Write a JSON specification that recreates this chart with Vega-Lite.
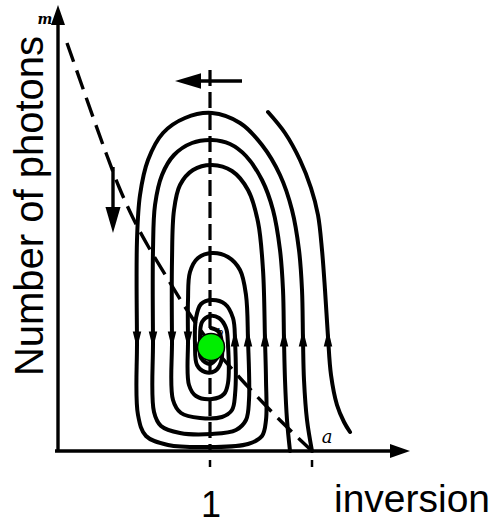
{
  "$schema": "https://vega.github.io/schema/vega-lite/v6.json",
  "autosize": {"type": "none"},
  "padding": 0,
  "width": 494,
  "height": 524,
  "background": "white",
  "config": {"view": {"stroke": null}},
  "datasets": {
    "curves": [
      {"s": "S1", "i": 1, "n": 1.6711, "m": 0},
      {"s": "S1", "i": 2, "n": 1.6382, "m": 0.31},
      {"s": "S1", "i": 3, "n": 1.6184, "m": 0.71},
      {"s": "S1", "i": 4, "n": 1.6118, "m": 1.11},
      {"s": "S1", "i": 5, "n": 1.6053, "m": 1.61},
      {"s": "S1", "i": 6, "n": 1.5855, "m": 2.01},
      {"s": "S1", "i": 7, "n": 1.5395, "m": 2.41},
      {"s": "S1", "i": 8, "n": 1.4605, "m": 2.76},
      {"s": "S1", "i": 9, "n": 1.3421, "m": 3.06},
      {"s": "S1", "i": 10, "n": 1.1974, "m": 3.28},
      {"s": "S1", "i": 11, "n": 1.0132, "m": 3.38},
      {"s": "S1", "i": 12, "n": 0.8355, "m": 3.33},
      {"s": "S1", "i": 13, "n": 0.6908, "m": 3.18},
      {"s": "S1", "i": 14, "n": 0.5921, "m": 2.91},
      {"s": "S1", "i": 15, "n": 0.5395, "m": 2.56},
      {"s": "S1", "i": 16, "n": 0.5197, "m": 2.11},
      {"s": "S1", "i": 17, "n": 0.5197, "m": 1.11},
      {"s": "S1", "i": 18, "n": 0.5263, "m": 0.36},
      {"s": "S1", "i": 19, "n": 0.5789, "m": 0.15},
      {"s": "S1", "i": 20, "n": 0.7237, "m": 0.06},
      {"s": "S1", "i": 21, "n": 1.0132, "m": 0.04},
      {"s": "S1", "i": 22, "n": 1.25, "m": 0.07},
      {"s": "S1", "i": 23, "n": 1.3421, "m": 0.15},
      {"s": "S1", "i": 24, "n": 1.3684, "m": 0.31},
      {"s": "S1", "i": 25, "n": 1.3684, "m": 0.71},
      {"s": "S1", "i": 26, "n": 1.3618, "m": 1.11},
      {"s": "S1", "i": 27, "n": 1.3487, "m": 1.81},
      {"s": "S1", "i": 28, "n": 1.3158, "m": 2.29},
      {"s": "S1", "i": 29, "n": 1.25, "m": 2.61},
      {"s": "S1", "i": 30, "n": 1.1447, "m": 2.80},
      {"s": "S1", "i": 31, "n": 1.0132, "m": 2.86},
      {"s": "S1", "i": 32, "n": 0.8882, "m": 2.81},
      {"s": "S1", "i": 33, "n": 0.8026, "m": 2.66},
      {"s": "S1", "i": 34, "n": 0.7632, "m": 2.41},
      {"s": "S1", "i": 35, "n": 0.75, "m": 1.91},
      {"s": "S1", "i": 36, "n": 0.75, "m": 1.11},
      {"s": "S1", "i": 37, "n": 0.7566, "m": 0.51},
      {"s": "S1", "i": 38, "n": 0.8092, "m": 0.38},
      {"s": "S1", "i": 39, "n": 0.9342, "m": 0.33},
      {"s": "S1", "i": 40, "n": 1.0789, "m": 0.34},
      {"s": "S1", "i": 41, "n": 1.1447, "m": 0.41},
      {"s": "S1", "i": 42, "n": 1.1645, "m": 0.56},
      {"s": "S1", "i": 43, "n": 1.1645, "m": 1.11},
      {"s": "S1", "i": 44, "n": 1.1513, "m": 1.33},
      {"s": "S1", "i": 45, "n": 1.0987, "m": 1.47},
      {"s": "S1", "i": 46, "n": 1.0132, "m": 1.51},
      {"s": "S1", "i": 47, "n": 0.9408, "m": 1.47},
      {"s": "S1", "i": 48, "n": 0.9079, "m": 1.33},
      {"s": "S1", "i": 49, "n": 0.9013, "m": 1.06},
      {"s": "S1", "i": 50, "n": 0.9145, "m": 0.86},
      {"s": "S1", "i": 51, "n": 0.9671, "m": 0.79},
      {"s": "S1", "i": 52, "n": 1.0329, "m": 0.80},
      {"s": "S1", "i": 53, "n": 1.0724, "m": 0.89},
      {"s": "S1", "i": 54, "n": 1.0789, "m": 1.06},
      {"s": "S1", "i": 55, "n": 1.0592, "m": 1.19},
      {"s": "S1", "i": 56, "n": 1.0066, "m": 1.23},
      {"s": "S2", "i": 1, "n": 1.5263, "m": 0},
      {"s": "S2", "i": 2, "n": 1.5066, "m": 0.31},
      {"s": "S2", "i": 3, "n": 1.4934, "m": 0.71},
      {"s": "S2", "i": 4, "n": 1.4868, "m": 1.11},
      {"s": "S2", "i": 5, "n": 1.4803, "m": 1.61},
      {"s": "S2", "i": 6, "n": 1.4605, "m": 2.01},
      {"s": "S2", "i": 7, "n": 1.4145, "m": 2.41},
      {"s": "S2", "i": 8, "n": 1.3421, "m": 2.71},
      {"s": "S2", "i": 9, "n": 1.2368, "m": 2.95},
      {"s": "S2", "i": 10, "n": 1.1316, "m": 3.07},
      {"s": "S2", "i": 11, "n": 1.0132, "m": 3.11},
      {"s": "S2", "i": 12, "n": 0.8816, "m": 3.08},
      {"s": "S2", "i": 13, "n": 0.7632, "m": 2.96},
      {"s": "S2", "i": 14, "n": 0.6842, "m": 2.76},
      {"s": "S2", "i": 15, "n": 0.6382, "m": 2.46},
      {"s": "S2", "i": 16, "n": 0.625, "m": 2.01},
      {"s": "S2", "i": 17, "n": 0.625, "m": 1.11},
      {"s": "S2", "i": 18, "n": 0.6316, "m": 0.39},
      {"s": "S2", "i": 19, "n": 0.6776, "m": 0.25},
      {"s": "S2", "i": 20, "n": 0.8026, "m": 0.18},
      {"s": "S2", "i": 21, "n": 1.0132, "m": 0.17},
      {"s": "S2", "i": 22, "n": 1.1711, "m": 0.21},
      {"s": "S2", "i": 23, "n": 1.2368, "m": 0.31},
      {"s": "S2", "i": 24, "n": 1.2566, "m": 0.51},
      {"s": "S2", "i": 25, "n": 1.25, "m": 1.11},
      {"s": "S2", "i": 26, "n": 1.2368, "m": 1.56},
      {"s": "S2", "i": 27, "n": 1.1974, "m": 1.81},
      {"s": "S2", "i": 28, "n": 1.1184, "m": 1.94},
      {"s": "S2", "i": 29, "n": 1.0132, "m": 1.98},
      {"s": "S2", "i": 30, "n": 0.9211, "m": 1.93},
      {"s": "S2", "i": 31, "n": 0.8684, "m": 1.79},
      {"s": "S2", "i": 32, "n": 0.8553, "m": 1.51},
      {"s": "S2", "i": 33, "n": 0.8553, "m": 1.11},
      {"s": "S2", "i": 34, "n": 0.8618, "m": 0.66},
      {"s": "S2", "i": 35, "n": 0.9079, "m": 0.55},
      {"s": "S2", "i": 36, "n": 1.0132, "m": 0.52},
      {"s": "S2", "i": 37, "n": 1.0921, "m": 0.57},
      {"s": "S2", "i": 38, "n": 1.1184, "m": 0.68},
      {"s": "S2", "i": 39, "n": 1.1184, "m": 1.06},
      {"s": "S2", "i": 40, "n": 1.1053, "m": 1.23},
      {"s": "S2", "i": 41, "n": 1.0592, "m": 1.33},
      {"s": "S2", "i": 42, "n": 1.0, "m": 1.35},
      {"s": "S2", "i": 43, "n": 0.9474, "m": 1.29},
      {"s": "S2", "i": 44, "n": 0.9342, "m": 1.11},
      {"s": "S2", "i": 45, "n": 0.9408, "m": 0.93},
      {"s": "S2", "i": 46, "n": 1.0, "m": 0.87},
      {"s": "S2", "i": 47, "n": 1.0461, "m": 0.93},
      {"s": "E", "i": 1, "n": 1.3816, "m": 3.39},
      {"s": "E", "i": 2, "n": 1.4934, "m": 3.18},
      {"s": "E", "i": 3, "n": 1.5921, "m": 2.91},
      {"s": "E", "i": 4, "n": 1.6645, "m": 2.63},
      {"s": "E", "i": 5, "n": 1.7105, "m": 2.36},
      {"s": "E", "i": 6, "n": 1.7368, "m": 2.01},
      {"s": "E", "i": 7, "n": 1.7566, "m": 1.61},
      {"s": "E", "i": 8, "n": 1.7763, "m": 1.14},
      {"s": "E", "i": 9, "n": 1.7961, "m": 0.76},
      {"s": "E", "i": 10, "n": 1.8355, "m": 0.46},
      {"s": "E", "i": 11, "n": 1.8816, "m": 0.29},
      {"s": "E", "i": 12, "n": 1.9211, "m": 0.19}
    ],
    "dashed": [
      {"s": "null", "i": 1, "n": 0.0592, "m": 4.08},
      {"s": "null", "i": 2, "n": 0.1447, "m": 3.71},
      {"s": "null", "i": 3, "n": 0.2303, "m": 3.34},
      {"s": "null", "i": 4, "n": 0.3158, "m": 2.98},
      {"s": "null", "i": 5, "n": 0.4013, "m": 2.64},
      {"s": "null", "i": 6, "n": 0.4934, "m": 2.33},
      {"s": "null", "i": 7, "n": 0.5921, "m": 2.05},
      {"s": "null", "i": 8, "n": 0.7105, "m": 1.75},
      {"s": "null", "i": 9, "n": 0.8487, "m": 1.41},
      {"s": "null", "i": 10, "n": 1.0, "m": 1.08},
      {"s": "null", "i": 11, "n": 1.1974, "m": 0.73},
      {"s": "null", "i": 12, "n": 1.3947, "m": 0.41},
      {"s": "null", "i": 13, "n": 1.5329, "m": 0.20},
      {"s": "null", "i": 14, "n": 1.6711, "m": 0},
      {"s": "vert", "i": 1, "n": 1.0, "m": 3.81},
      {"s": "vert", "i": 2, "n": 1.0, "m": 0}
    ],
    "frame": [
      {"s": "yaxis", "i": 1, "n": 0, "m": -0.01},
      {"s": "yaxis", "i": 2, "n": 0, "m": 4.3},
      {"s": "xaxis", "i": 1, "n": -0.0197, "m": 0},
      {"s": "xaxis", "i": 2, "n": 2.2171, "m": 0},
      {"s": "topArrow", "i": 1, "n": 0.8684, "m": 3.70},
      {"s": "topArrow", "i": 2, "n": 1.2105, "m": 3.70},
      {"s": "slopeArrow", "i": 1, "n": 0.3618, "m": 2.84},
      {"s": "slopeArrow", "i": 2, "n": 0.3618, "m": 2.36}
    ],
    "ticks": [
      {"s": "t1", "i": 1, "n": 1.0, "m": -0.09},
      {"s": "t1", "i": 2, "n": 1.0, "m": -0.16},
      {"s": "t2", "i": 1, "n": 1.6711, "m": -0.09},
      {"s": "t2", "i": 2, "n": 1.6711, "m": -0.16}
    ],
    "heads": [
      {"kind": "down", "n": 0.5197, "m": 1.11},
      {"kind": "down", "n": 0.625, "m": 1.11},
      {"kind": "down", "n": 0.75, "m": 1.11},
      {"kind": "down", "n": 0.8553, "m": 1.11},
      {"kind": "up", "n": 1.1645, "m": 1.13},
      {"kind": "up", "n": 1.25, "m": 1.13},
      {"kind": "up", "n": 1.3618, "m": 1.13},
      {"kind": "up", "n": 1.4868, "m": 1.13},
      {"kind": "up", "n": 1.6118, "m": 1.13},
      {"kind": "up", "n": 1.7763, "m": 1.13},
      {"kind": "axisUp", "n": 0, "m": 4.36},
      {"kind": "axisRight", "n": 2.25, "m": 0},
      {"kind": "bigLeft", "n": 0.8553, "m": 3.70},
      {"kind": "bigDown", "n": 0.3618, "m": 2.31}
    ],
    "fixed": [
      {"label": "b", "n": 1.0066, "m": 1.04}
    ],
    "labels": [
      {"kind": "ylab", "text": "Number of photons", "n": -0.0987, "m": 2.45},
      {"kind": "xlab", "text": "inversion", "n": 2.3289, "m": -0.61},
      {"kind": "one", "text": "1", "n": 1.0066, "m": -0.655},
      {"kind": "m", "text": "m", "n": -0.0855, "m": 4.27},
      {"kind": "a", "text": "a", "n": 1.7697, "m": 0.08},
      {"kind": "b", "text": "b", "n": 1.0658, "m": 1.15}
    ]
  },
  "encoding": {
    "x": {"field": "n", "type": "quantitative", "scale": {"domain": [-0.3816, 2.8684], "nice": false, "zero": false}, "axis": null},
    "y": {"field": "m", "type": "quantitative", "scale": {"domain": [-0.73, 4.51], "nice": false, "zero": false}, "axis": null}
  },
  "layer": [
    {
      "data": {"name": "dashed"},
      "transform": [{"filter": "datum.s === 'null'"}],
      "mark": {"type": "line", "color": "black", "strokeWidth": 3.4, "strokeDash": [20, 9], "interpolate": "catmull-rom"},
      "encoding": {"order": {"field": "i", "type": "quantitative"}}
    },
    {
      "data": {"name": "dashed"},
      "transform": [{"filter": "datum.s === 'vert'"}],
      "mark": {"type": "line", "color": "black", "strokeWidth": 3.2, "strokeDash": [16, 6]},
      "encoding": {"order": {"field": "i", "type": "quantitative"}}
    },
    {
      "data": {"name": "curves"},
      "mark": {"type": "line", "color": "black", "strokeWidth": 4, "interpolate": "catmull-rom", "strokeCap": "round"},
      "encoding": {"detail": {"field": "s"}, "order": {"field": "i", "type": "quantitative"}}
    },
    {
      "data": {"name": "frame"},
      "mark": {"type": "line", "color": "black", "strokeWidth": 3.4},
      "encoding": {"detail": {"field": "s"}, "order": {"field": "i", "type": "quantitative"}}
    },
    {
      "data": {"name": "ticks"},
      "mark": {"type": "line", "color": "black", "strokeWidth": 2.5},
      "encoding": {"detail": {"field": "s"}, "order": {"field": "i", "type": "quantitative"}}
    },
    {
      "data": {"name": "heads"},
      "transform": [{"filter": "datum.kind === 'down'"}],
      "mark": {"type": "point", "filled": true, "color": "black", "opacity": 1, "shape": "M0,1L-0.5,-1L0.5,-1Z", "size": 289}
    },
    {
      "data": {"name": "heads"},
      "transform": [{"filter": "datum.kind === 'up'"}],
      "mark": {"type": "point", "filled": true, "color": "black", "opacity": 1, "shape": "M0,-1L-0.5,1L0.5,1Z", "size": 289}
    },
    {
      "data": {"name": "heads"},
      "transform": [{"filter": "datum.kind === 'axisUp'"}],
      "mark": {"type": "point", "filled": true, "color": "black", "opacity": 1, "shape": "M0,-1L-0.7,1L0.7,1Z", "size": 400}
    },
    {
      "data": {"name": "heads"},
      "transform": [{"filter": "datum.kind === 'axisRight'"}],
      "mark": {"type": "point", "filled": true, "color": "black", "opacity": 1, "shape": "M1,0L-1,-0.7L-1,0.7Z", "size": 400}
    },
    {
      "data": {"name": "heads"},
      "transform": [{"filter": "datum.kind === 'bigLeft'"}],
      "mark": {"type": "point", "filled": true, "color": "black", "opacity": 1, "shape": "M-1,0L1,-0.6L1,0.6Z", "size": 676}
    },
    {
      "data": {"name": "heads"},
      "transform": [{"filter": "datum.kind === 'bigDown'"}],
      "mark": {"type": "point", "filled": true, "color": "black", "opacity": 1, "shape": "M0,1L-0.58,-1L0.58,-1Z", "size": 676}
    },
    {
      "data": {"name": "labels"},
      "transform": [{"filter": "datum.kind === 'b'"}],
      "mark": {"type": "text", "font": "DejaVu Serif", "fontStyle": "italic", "fontSize": 11, "color": "black", "align": "center", "baseline": "alphabetic"},
      "encoding": {"text": {"field": "text"}}
    },
    {
      "data": {"name": "fixed"},
      "mark": {"type": "point", "shape": "circle", "filled": true, "fill": "#00ee00", "stroke": "black", "strokeWidth": 1.5, "opacity": 1, "size": 729}
    },
    {
      "data": {"name": "labels"},
      "transform": [{"filter": "datum.kind === 'ylab'"}],
      "mark": {"type": "text", "font": "Liberation Sans", "fontSize": 40, "angle": 270, "color": "black", "align": "center", "baseline": "alphabetic"},
      "encoding": {"text": {"field": "text"}}
    },
    {
      "data": {"name": "labels"},
      "transform": [{"filter": "datum.kind === 'xlab'"}],
      "mark": {"type": "text", "font": "Liberation Sans", "fontSize": 39, "color": "black", "align": "center", "baseline": "alphabetic"},
      "encoding": {"text": {"field": "text"}}
    },
    {
      "data": {"name": "labels"},
      "transform": [{"filter": "datum.kind === 'one'"}],
      "mark": {"type": "text", "font": "Liberation Sans", "fontSize": 36, "color": "black", "align": "center", "baseline": "alphabetic"},
      "encoding": {"text": {"field": "text"}}
    },
    {
      "data": {"name": "labels"},
      "transform": [{"filter": "datum.kind === 'm'"}],
      "mark": {"type": "text", "font": "DejaVu Serif", "fontStyle": "italic", "fontWeight": "bold", "fontSize": 14, "color": "black", "align": "center", "baseline": "alphabetic"},
      "encoding": {"text": {"field": "text"}}
    },
    {
      "data": {"name": "labels"},
      "transform": [{"filter": "datum.kind === 'a'"}],
      "mark": {"type": "text", "font": "DejaVu Serif", "fontStyle": "italic", "fontSize": 18, "color": "black", "align": "center", "baseline": "alphabetic"},
      "encoding": {"text": {"field": "text"}}
    }
  ]
}
